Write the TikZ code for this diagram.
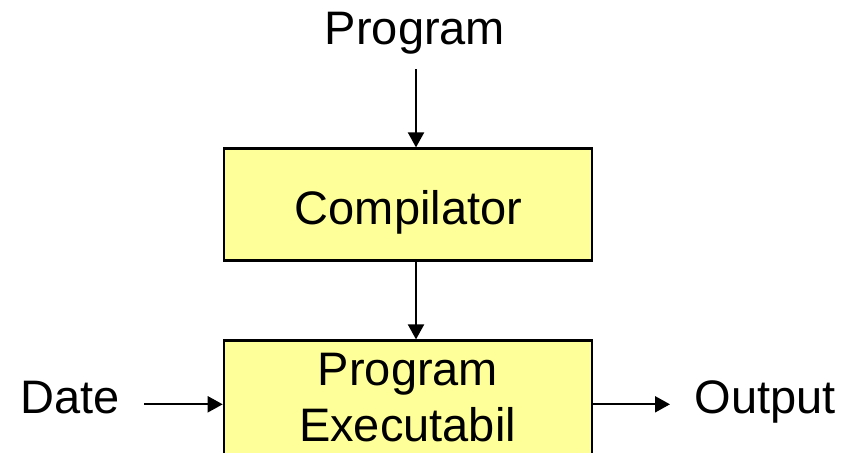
\documentclass[tikz,border=0pt]{standalone}
\usepackage{fontspec}
\setmainfont{Liberation Sans}
\usetikzlibrary{arrows.meta}
\definecolor{boxfill}{HTML}{FFFF99}
\begin{document}
\begin{tikzpicture}[x=1pt,y=-1pt,
  lbl/.style={inner sep=0pt, anchor=base, font=\fontsize{47}{56.7}\selectfont},
  block/.style={draw=black, line width=2.6pt, fill=boxfill, inner sep=0pt},
  arr/.style={line width=2pt, -{Triangle[length=15pt,width=16pt]}}]
\useasboundingbox (0,0) rectangle (850,452);
\fill[white] (0,0) rectangle (850,452);

% boxes
\node[block, minimum width=368pt, minimum height=112pt] (comp) at (408,204.7) {};
\node[block, minimum width=368pt, minimum height=130pt] (exe) at (408,405.7) {};

% texts
\node[lbl] (progin) at (415,45) {Program};
\node[lbl] (complbl) at (408.5,224) {Compilator};
\node[lbl] (exe1) at (408,385) {Program};
\node[lbl] (exe2) at (407.5,441.7) {Executabil};
\node[lbl] (date) at (70.3,413) {Date};
\node[lbl] (out) at (765,413) {Output};

% connectors
\coordinate (ptop) at (416,69);
\coordinate (din) at (144,404.3);
\coordinate (dout) at (670,404.3);
\draw[arr] (ptop) -- (ptop |- comp.north);
\draw[arr] (ptop |- comp.south) -- (ptop |- exe.north);
\draw[arr] (din) -- (din -| exe.west);
\draw[arr] (din -| exe.east) -- (dout);
\end{tikzpicture}
\end{document}
